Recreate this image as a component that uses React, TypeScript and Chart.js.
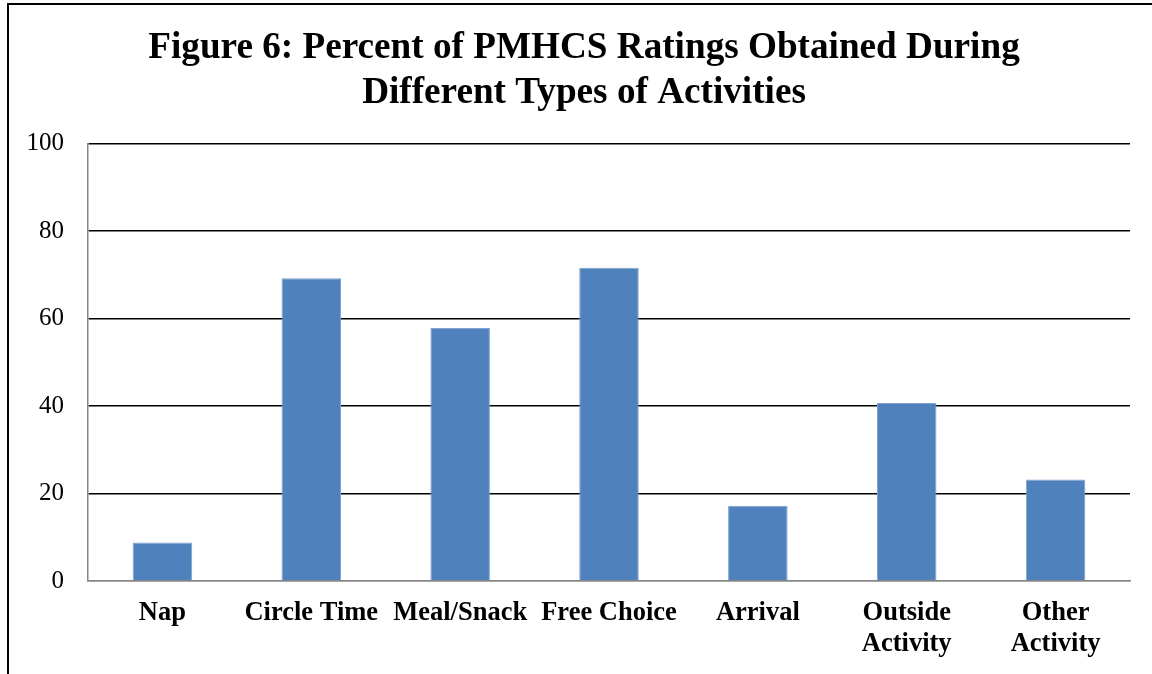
import React, { useEffect, useRef } from "react";
import { Chart, registerables } from "chart.js";

Chart.register(...registerables);

const titleLines = [
  "Figure 6: Percent of PMHCS Ratings Obtained During",
  "Different Types of Activities",
];
const categories: (string | string[])[] = [
  "Nap",
  "Circle Time",
  "Meal/Snack",
  "Free Choice",
  "Arrival",
  ["Outside", "Activity"],
  ["Other", "Activity"],
];
const percentValues = [8.8, 69.2, 57.8, 71.6, 17.2, 40.7, 23.2];
const yMin = 0;
const yMax = 100;
const yStep = 20;

const FONT = "'Liberation Serif', 'Times New Roman', serif";

const framePlugin = {
  id: "frame",
  beforeDraw(chart: any) {
    const ctx = chart.ctx;
    ctx.save();
    ctx.fillStyle = "#ffffff";
    ctx.fillRect(0, 0, chart.width, chart.height);
    ctx.strokeStyle = "#000000";
    ctx.lineWidth = 2;
    ctx.strokeRect(8, 4, chart.width + 100, chart.height + 100);
    ctx.restore();
  },
};

export default function App() {
  const ref = useRef<HTMLCanvasElement | null>(null);

  useEffect(() => {
    document.body.style.margin = "0";
    if (!ref.current) return;
    const chart = new Chart(ref.current, {
      type: "bar",
      data: {
        labels: categories,
        datasets: [
          {
            data: percentValues,
            backgroundColor: "#4F81BD",
            borderColor: "#7FA2CF",
            borderWidth: 1,
            barPercentage: 0.4,
            categoryPercentage: 1,
          },
        ],
      },
      options: {
        animation: false,
        responsive: false,
        maintainAspectRatio: false,
        layout: { padding: { left: 16, right: 0, top: 0, bottom: 0 } },
        plugins: {
          legend: { display: false },
          tooltip: { enabled: false },
          title: {
            display: true,
            text: titleLines,
            color: "#000000",
            font: { family: FONT, size: 37.2, weight: "bold", lineHeight: 1.216 },
            padding: { top: 26, bottom: 27 },
          },
        },
        scales: {
          x: {
            grid: { display: false, drawTicks: false },
            border: { display: true, color: "#868686", width: 1.5 },
            afterFit: (s: any) => {
              s.height = 93;
            },
            ticks: {
              color: "#000000",
              padding: 17,
              maxRotation: 0,
              autoSkip: false,
              font: { family: FONT, size: 26.5, weight: "bold", lineHeight: 1.17 },
            },
          },
          y: {
            min: yMin,
            max: yMax,
            afterFit: (s: any) => {
              s.width = 72;
            },
            grid: {
              drawTicks: false,
              color: (c: any) => (c.tick && c.tick.value === 0 ? "#868686" : "#000000"),
              lineWidth: 1.5,
            },
            border: { display: true, color: "#868686", width: 1.5 },
            ticks: {
              stepSize: yStep,
              color: "#000000",
              padding: 24,
              font: { family: FONT, size: 25 },
            },
          },
          spacer: {
            type: "linear",
            position: "right",
            display: true,
            afterFit: (s: any) => {
              s.width = 22;
            },
            grid: { display: false, drawTicks: false },
            border: { display: false },
            ticks: { display: false },
          },
        },
      },
      plugins: [framePlugin],
    });
    return () => chart.destroy();
  }, []);

  return <canvas ref={ref} width={1152} height={674} style={{ display: "block" }} />;
}
